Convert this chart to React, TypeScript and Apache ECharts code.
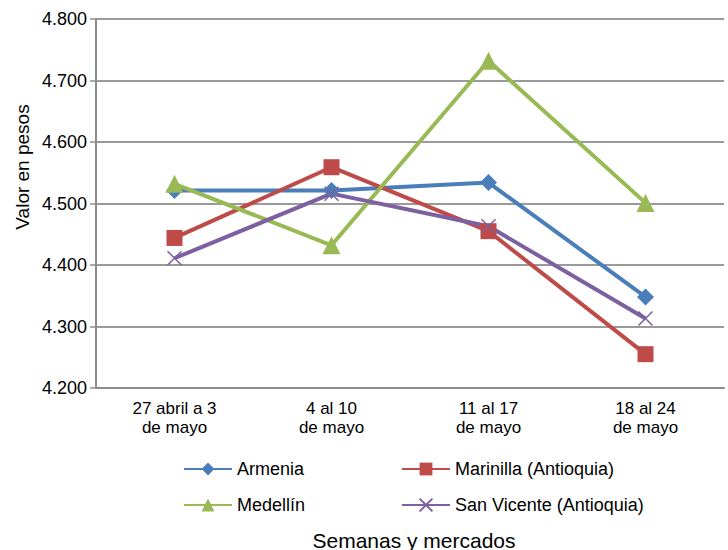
import React, { useEffect, useRef } from "react";
import * as echarts from "echarts";

const categories = ["27 abril a 3\nde mayo", "4 al 10\nde mayo", "11 al 17\nde mayo", "18 al 24\nde mayo"];
const armenia = [4521, 4521, 4534, 4348];
const marinilla = [4444, 4559, 4455, 4255];
const medellin = [4532, 4432, 4732, 4501];
const sanVicente = [4411, 4516, 4463, 4313];
const yTicks = { min: 4200, max: 4800, interval: 100 };

const FONT = "Liberation Sans, Arial, sans-serif";
const xPath = "path://M0,0L10,10M10,0L0,10";

export default function App() {
  const ref = useRef<HTMLDivElement>(null);
  useEffect(() => {
    const chart = echarts.init(ref.current!, null, { renderer: "svg" });
    const lineSeries = (name: string, data: number[], color: string, symbol: string, size: number, extra: any = {}) => ({
      name,
      type: "line",
      data,
      symbol,
      symbolSize: size,
      lineStyle: { color, width: 4 },
      itemStyle: { color, ...(extra.itemStyle || {}) },
    });
    const legendText = { fontSize: 18, color: "#000", fontFamily: FONT };
    chart.setOption({
      animation: false,
      textStyle: { fontFamily: FONT },
      grid: { left: 96, top: 19, right: 4, bottom: 162 },
      xAxis: {
        type: "category",
        data: categories,
        boundaryGap: true,
        axisLine: { lineStyle: { color: "#8c8c8c", width: 2 } },
        axisTick: { show: false },
        axisLabel: { color: "#000", fontSize: 17, lineHeight: 19, margin: 11, fontFamily: FONT },
      },
      yAxis: {
        type: "value",
        min: yTicks.min,
        max: yTicks.max,
        interval: yTicks.interval,
        axisLine: { show: true, lineStyle: { color: "#8c8c8c", width: 2 } },
        axisTick: { show: true, length: 6, lineStyle: { color: "#8c8c8c", width: 1.5 } },
        splitLine: { lineStyle: { color: "#9a9a9a", width: 2 } },
        axisLabel: {
          color: "#000",
          fontSize: 18,
          margin: 9,
          fontFamily: FONT,
          formatter: (v: number) => {
            const s = String(Math.round(v));
            return s.slice(0, s.length - 3) + "." + s.slice(-3);
          },
        },
      },
      legend: [
        {
          data: ["Armenia", "Medellín"],
          orient: "vertical",
          left: 178,
          top: 455,
          itemWidth: 48,
          itemHeight: 16,
          itemGap: 18,
          textStyle: legendText,
        },
        {
          data: ["Marinilla (Antioquia)", "San Vicente (Antioquia)"],
          orient: "vertical",
          left: 396,
          top: 455,
          itemWidth: 48,
          itemHeight: 16,
          itemGap: 18,
          textStyle: legendText,
        },
      ],
      graphic: [
        {
          type: "text",
          x: 414,
          y: 540,
          style: { text: "Semanas y mercados", fontSize: 21, fill: "#000", fontFamily: FONT, align: "center", verticalAlign: "middle" },
        },
        {
          type: "text",
          x: 22,
          y: 167,
          rotation: Math.PI / 2,
          style: { text: "Valor en pesos", fontSize: 19, fill: "#000", fontFamily: FONT, align: "center", verticalAlign: "middle" },
        },
      ],
      series: [
        lineSeries("Armenia", armenia, "#4A7EBB", "diamond", 17),
        lineSeries("Marinilla (Antioquia)", marinilla, "#BE4B48", "rect", 16),
        lineSeries("Medellín", medellin, "#98B954", "triangle", 18),
        lineSeries("San Vicente (Antioquia)", sanVicente, "#7D60A0", xPath, 14, {
          itemStyle: { borderColor: "#7D60A0", borderWidth: 1.5, color: "#7D60A0" },
        }),
      ],
    });
    return () => chart.dispose();
  }, []);
  return <div ref={ref} style={{ width: 728, height: 550, position: "absolute", left: 0, top: 0 }} />;
}
